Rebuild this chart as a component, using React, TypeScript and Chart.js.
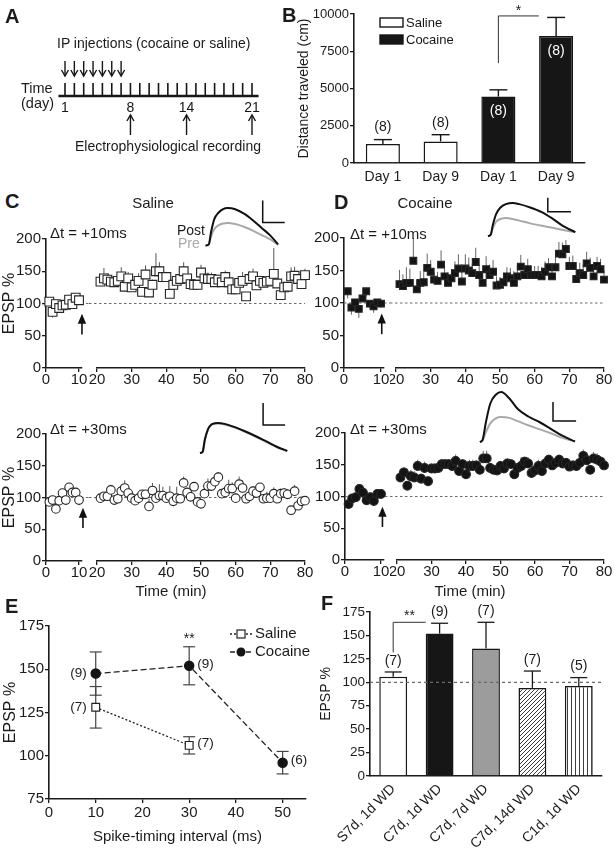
import React, { useEffect, useRef } from "react";
import { Chart, registerables } from "chart.js";

Chart.register(...registerables);

const FONT = "'Liberation Sans', Arial, Helvetica, sans-serif";
Chart.defaults.font.family = FONT;
Chart.defaults.color = "#1b1b1b";

// ---------------- Panel A (protocol timeline) ----------------
const timelineDays = [1, 2, 3, 4, 5, 6, 7, 8, 9, 10, 11, 12, 13, 14, 15, 16, 17, 18, 19, 20, 21];
const injectionDays = [1, 2, 3, 4, 5, 6, 7];
const recordingDays = [8, 14, 21];
const labeledDays = [1, 8, 14, 21];

// ---------------- Panel B (locomotion) ----------------
const bCategories = ["Day 1", "Day 9", "Day 1", "Day 9"];
const bGroups = ["Saline", "Saline", "Cocaine", "Cocaine"];
const bValues = [1270, 1450, 4460, 8520];
const bErrors = [300, 450, 450, 1250];
const bCounts = ["(8)", "(8)", "(8)", "(8)"];
const bTicks = [0, 2500, 5000, 7500, 10000];
const bBracket = [6700, 9870];

// ---------------- Panels C / D (time courses) ----------------
const baselineMinutes = [1, 2, 3, 4, 5, 6, 7, 8, 9, 10];
const postMinutes = [
  21, 22, 23, 24, 25, 26, 27, 28, 29, 30, 31, 32, 33, 34, 35, 36, 37, 38, 39, 40,
  41, 42, 43, 44, 45, 46, 47, 48, 49, 50, 51, 52, 53, 54, 55, 56, 57, 58, 59, 60,
  61, 62, 63, 64, 65, 66, 67, 68, 69, 70, 71, 72, 73, 74, 75, 76, 77, 78, 79, 80,
];
const leftTicks = [0, 10];
const rightTicks = [20, 30, 40, 50, 60, 70, 80];
const epspTicks = [0, 50, 100, 150, 200];

// C top: saline, dt = +10 ms
const cTopBase = [103, 87, 99, 93, 97, 98, 106, 99, 109, 105];
const cTopBaseErr = [4, -9, 4, -6, 5, 4, 4, 3, 4, 3];
const cTopPost = [
  134, 139, 137, 134, 133, 135, 142, 126, 139, 125,
  129, 135, 118, 145, 117, 129, 150, 150, 141, 141,
  115, 129, 135, 138, 150, 139, 130, 129, 129, 148,
  139, 138, 138, 133, 137, 133, 141, 133, 122, 122,
  132, 135, 111, 138, 142, 128, 135, 132, 134, 135,
  146, 131, 113, 125, 126, 142, 143, 138, 130, 144,
];
const cTopPostErr = [
  8, 16, 10, 10, 8, 10, 14, 8, 10, 6,
  8, 12, 4, 14, 4, 8, 28, 14, 12, 8,
  4, 10, 10, 10, 14, 10, 8, 8, 6, 12,
  12, 10, 10, 8, 8, 8, 10, 6, 8, 6,
  10, 14, 4, 12, 12, 10, 8, 8, 8, 10,
  40, 8, 4, 8, 6, 14, 14, 10, 8, 10,
];

// D top: cocaine, dt = +10 ms
const dTopBase = [118, 93, 101, 91, 107, 118, 99, 95, 101, 99];
const dTopBaseErr = [-11, -11, -8, -14, 6, -8, -8, -10, -6, -6];
const dTopPost = [
  129, 126, 131, 131, 165, 121, 131, 132, 154, 148,
  136, 134, 159, 141, 131, 138, 146, 153, 133, 153,
  150, 146, 163, 143, 131, 152, 143, 148, 127, 128,
  132, 141, 138, 131, 141, 156, 143, 152, 143, 143,
  143, 141, 148, 155, 141, 155, 176, 175, 183, 157,
  157, 137, 146, 143, 161, 154, 141, 157, 152, 136,
];
const dTopPostErr = [
  22, 18, 24, 22, 35, 14, 18, 16, 22, 18,
  12, 14, 22, 18, 16, 14, 18, 22, 16, 22,
  20, 14, 22, 16, 12, 20, 16, 18, 14, 12,
  14, 14, 16, 18, 18, 18, 14, 16, 14, 14,
  14, 14, 16, 14, 16, 16, 18, 18, 14, 14,
  16, 14, 16, 16, 18, 16, 14, 14, 16, 14,
];

// C bottom: saline, dt = +30 ms
const cBotBase = [93, 96, 82, 95, 107, 96, 116, 108, 108, 96];
const cBotBaseErr = [5, 5, -6, 5, 6, -6, 5, 5, 5, -8];
const cBotPost = [
  99, 102, 102, 112, 96, 98, 110, 115, 107, 99,
  95, 99, 105, 105, 86, 111, 99, 103, 103, 99,
  102, 94, 99, 98, 123, 108, 101, 117, 93, 90,
  106, 118, 118, 125, 132, 106, 108, 114, 114, 99,
  121, 115, 98, 102, 110, 107, 116, 98, 99, 99,
  106, 98, 106, 107, 105, 80, 110, 87, 94, 95,
];
const cBotPostErr = [
  4, 6, 8, 8, 5, 5, 10, 12, 6, 5,
  6, 8, 6, 6, 12, 12, 14, 18, 14, 10,
  16, 8, 18, 6, 10, 6, 4, 6, 6, 6,
  10, 12, 12, 10, 8, 6, 10, 14, 10, 6,
  12, 12, 6, 6, 8, 12, 6, 6, 10, 10,
  10, 6, 8, 8, 8, 6, 10, 6, 6, 6,
];

// D bottom: cocaine, dt = +30 ms
const dBotBase = [88, 97, 99, 112, 106, 94, 99, 93, 104, 104];
const dBotBaseErr = [4, 4, 4, 4, 4, -6, 4, -8, 4, 4];
const dBotPost = [
  130, 138, 117, 132, 130, 148, 128, 145, 124, 144,
  144, 145, 151, 151, 151, 148, 156, 140, 151, 135,
  148, 148, 149, 142, 160, 160, 145, 142, 141, 148,
  144, 152, 151, 135, 145, 148, 155, 152, 137, 141,
  148, 140, 152, 158, 149, 153, 158, 152, 153, 147,
  149, 148, 153, 164, 157, 142, 160, 158, 155, 149,
];
const dBotPostErr = [
  8, 8, 6, 10, 10, 10, 8, 10, 8, 8,
  8, 8, 8, 8, 8, 8, 10, 10, 8, 8,
  10, 10, 8, 8, 12, 12, 8, 8, 8, 8,
  8, 8, 8, 8, 8, 14, 8, 10, 8, 8,
  10, 8, 8, 8, 10, 8, 8, 8, 8, 8,
  8, 10, 8, 10, 10, 8, 10, 10, 8, 8,
];

// Example EPSP traces (time in ms, amplitude in mV)
const traceC1Time = [5, 8, 10, 13, 17, 21, 25, 32, 40, 48, 56, 64, 71];
const traceC1Post = [0, 0.1, 1.2, 2.4, 3.0, 3.3, 3.4, 3.3, 2.9, 2.3, 1.6, 0.9, 0.1];
const traceC1Pre = [0, 0.1, 0.8, 1.5, 1.85, 2.0, 2.05, 1.95, 1.7, 1.35, 0.95, 0.55, 0.05];
const traceD1Time = [3.6, 6, 8, 11, 15, 20, 26, 32, 42, 52, 62, 72, 83];
const traceD1Post = [0, 0.1, 1.0, 2.0, 2.6, 2.9, 3.0, 2.9, 2.6, 2.2, 1.6, 0.9, 0.35];
const traceD1Pre = [0, 0.1, 0.7, 1.3, 1.55, 1.64, 1.55, 1.4, 1.15, 0.95, 0.75, 0.55, 0.35];
const traceC2Time = [3.6, 6, 8, 11, 14, 17, 20, 26, 34, 44, 54, 64, 74, 83];
const traceC2Post = [0, 0.1, 1.2, 2.2, 2.6, 2.7, 2.73, 2.65, 2.4, 2.0, 1.55, 1.05, 0.55, 0.2];
const traceC2Pre = [0, 0.1, 1.15, 2.15, 2.55, 2.65, 2.68, 2.6, 2.35, 1.95, 1.5, 1.0, 0.5, 0.18];
const traceD2Time = [3.6, 6, 9, 13, 18, 23, 30, 38, 48, 58, 68, 78, 90];
const traceD2Post = [0, 0.2, 1.8, 3.5, 4.3, 4.55, 4.0, 3.0, 2.3, 1.8, 1.2, 0.6, 0.05];
const traceD2Pre = [0, 0.15, 0.9, 1.7, 2.15, 2.27, 2.2, 1.9, 1.5, 1.15, 0.8, 0.4, 0.05];

// ---------------- Panel E ----------------
const eTicksX = [0, 10, 20, 30, 40, 50];
const eTicksY = [75, 100, 125, 150, 175];
const eSalineX = [10, 30];
const eSalineY = [128, 106];
const eSalineErr = [12, 5];
const eSalineN = ["(7)", "(7)"];
const eSalineSide = ["left", "right"];
const eCocaineX = [10, 30, 50];
const eCocaineY = [147.5, 152, 96];
const eCocaineErr = [12.5, 11, 6.5];
const eCocaineN = ["(9)", "(9)", "(6)"];
const eCocaineSide = ["left", "right", "right"];

// ---------------- Panel F ----------------
const fCategories = ["S7d, 1d WD", "C7d, 1d WD", "C7d, 7d WD", "C7d, 14d WD", "C1d, 1d WD"];
const fValues = [106, 152, 136, 94, 96];
const fErrors = [5, 11, 28, 18, 9];
const fCounts = ["(7)", "(9)", "(7)", "(7)", "(5)"];
const fFills = ["white", "black", "grey", "diagonal", "vertical"];
const fTicks = [0, 25, 50, 75, 100, 125, 150, 175];
const fBracket = [132, 164];
const refLine = 100;
const arrowFrom = 52;
const arrowTo = 84;

// ================= helpers =================
type Rect = { x: number; y: number; w: number; h: number };
type Area = { l: number; t: number; r: number; b: number };
const AX = "#1b1b1b";

const padOf = (r: Rect, a: Area, yW: number, xH: number) => ({
  left: a.l - r.x - yW,
  top: a.t - r.y,
  right: r.x + r.w - a.r,
  bottom: r.y + r.h - a.b - xH,
});
const fitW = (w: number) => (s: any) => {
  s.width = w;
  s.paddingTop = 0; s.paddingBottom = 0; s.paddingLeft = 0; s.paddingRight = 0;
};
const fitH = (h: number) => (s: any) => {
  s.height = h;
  s.paddingTop = 0; s.paddingBottom = 0; s.paddingLeft = 0; s.paddingRight = 0;
};
const setTicks = (vals: number[]) => (s: any) => {
  s.ticks = vals.map((v) => ({ value: v }));
};
const plainNum = (v: any) => String(v);
const baseOpts = (padding: any) => ({
  responsive: false,
  maintainAspectRatio: false,
  animation: false,
  devicePixelRatio: 1,
  events: [],
  layout: { padding, autoPadding: false },
  plugins: { legend: { display: false }, tooltip: { enabled: false }, title: { display: false } },
});
const axis = (size: number, tickColor = AX, padding = 1, numeric = true) => ({
  grid: { display: true, drawOnChartArea: false, drawTicks: true, tickLength: 4, color: tickColor, lineWidth: 1.3 },
  border: { display: true, color: AX, width: 1.6 },
  ticks: numeric
    ? { color: AX, font: { size, family: FONT }, padding, autoSkip: false, maxRotation: 0, minRotation: 0, callback: plainNum }
    : { color: AX, font: { size, family: FONT }, padding, autoSkip: false, maxRotation: 0, minRotation: 0 },
});
function seg(ctx: any, x1: number, y1: number, x2: number, y2: number) {
  ctx.beginPath();
  ctx.moveTo(x1, y1);
  ctx.lineTo(x2, y2);
  ctx.stroke();
}

function ChartBox({ rect, build }: { rect: Rect; build: (c: HTMLCanvasElement) => any }) {
  const ref = useRef<HTMLCanvasElement>(null);
  useEffect(() => {
    const cv = ref.current as HTMLCanvasElement;
    const chart = new Chart(cv, build(cv));
    return () => chart.destroy();
  }, []);
  return (
    <canvas
      ref={ref}
      width={rect.w}
      height={rect.h}
      style={{ position: "absolute", left: rect.x, top: rect.y, width: rect.w, height: rect.h }}
    />
  );
}

function Label({ x, y, text, size = 15, bold = false, color = "#1b1b1b", align = "left" }: any) {
  const tx = align === "center" ? "-50%" : align === "right" ? "-100%" : "0";
  return (
    <div
      style={{
        position: "absolute", left: x, top: y, transform: `translate(${tx}, -50%)`,
        fontSize: size, fontWeight: bold ? 700 : 400, color, whiteSpace: "nowrap",
        lineHeight: 1, fontFamily: FONT,
      }}
    >
      {text}
    </div>
  );
}

// ================= Panel A =================
const rectA = { x: 0, y: 0, w: 282, h: 185 };
const areaA = { l: 65, t: 0, r: 252, b: 185 };
function openArrow(ctx: any, x: number, yFrom: number, yTo: number) {
  seg(ctx, x, yFrom, x, yTo);
  const dir = yTo > yFrom ? -1 : 1;
  ctx.beginPath();
  ctx.moveTo(x - 3.5, yTo + dir * 6);
  ctx.lineTo(x, yTo);
  ctx.lineTo(x + 3.5, yTo + dir * 6);
  ctx.stroke();
}
function buildA() {
  return {
    type: "scatter",
    data: { datasets: [{ data: timelineDays.map((d) => ({ x: d, y: 0 })), pointRadius: 0 }] },
    options: {
      ...baseOpts(padOf(rectA, areaA, 0, 0)),
      scales: {
        x: { type: "linear", display: false, min: 1, max: 21 },
        y: { type: "linear", display: false, min: -1, max: 1 },
      },
    },
    plugins: [
      {
        id: "timeline",
        afterDraw(chart: any) {
          const ctx = chart.ctx;
          const xs = chart.scales.x;
          const px = (d: number) => xs.getPixelForValue(d);
          const axisY = 96;
          ctx.save();
          ctx.strokeStyle = "#161616";
          ctx.fillStyle = "#161616";
          ctx.lineWidth = 2.6;
          seg(ctx, px(0.3), axisY, px(21.7), axisY);
          ctx.lineWidth = 1.6;
          timelineDays.forEach((d) => seg(ctx, px(d), axisY - 13, px(d), axisY));
          ctx.font = `14px ${FONT}`;
          ctx.textAlign = "center";
          ctx.textBaseline = "middle";
          labeledDays.forEach((d) => ctx.fillText(String(d), px(d), axisY + 12));
          ctx.lineWidth = 1.4;
          injectionDays.forEach((d) => openArrow(ctx, px(d), 61, 76));
          recordingDays.forEach((d) => openArrow(ctx, px(d), 135, 115));
          ctx.restore();
        },
      },
    ],
  };
}

// ================= Panel B =================
const rectB = { x: 280, y: 0, w: 335, h: 195 };
const areaB = { l: 354, t: 14, r: 585, b: 163 };
function buildB() {
  return {
    type: "bar",
    data: {
      labels: bCategories,
      datasets: [
        {
          data: bValues,
          backgroundColor: bGroups.map((g) => (g === "Saline" ? "#ffffff" : "#161616")),
          borderColor: "#161616",
          borderWidth: 1.5,
          barPercentage: 0.59,
          categoryPercentage: 1,
        },
      ],
    },
    options: {
      ...baseOpts(padOf(rectB, areaB, 74, 28)),
      scales: {
        x: { type: "category", offset: true, ...axis(14, "rgba(0,0,0,0)", 2, false), afterFit: fitH(28) },
        y: {
          type: "linear", min: 0, max: 10000, ...axis(13),
          afterBuildTicks: setTicks(bTicks), afterFit: fitW(74),
          title: { display: true, text: "Distance traveled (cm)", color: AX, font: { size: 14, family: FONT }, padding: { top: 16, bottom: 0 } },
        },
      },
    },
    plugins: [
      {
        id: "bAnn",
        afterDatasetsDraw(chart: any) {
          const ctx = chart.ctx;
          const ys = chart.scales.y;
          const ca = chart.chartArea;
          const meta = chart.getDatasetMeta(0);
          ctx.save();
          ctx.strokeStyle = "#161616";
          ctx.lineWidth = 1.4;
          meta.data.forEach((el: any, i: number) => {
            const yt = ys.getPixelForValue(bValues[i] + bErrors[i]);
            seg(ctx, el.x, el.y, el.x, yt);
            seg(ctx, el.x - 9, yt, el.x + 9, yt);
          });
          ctx.font = `14px ${FONT}`;
          ctx.textAlign = "center";
          ctx.textBaseline = "middle";
          meta.data.forEach((el: any, i: number) => {
            if (bGroups[i] === "Saline") {
              ctx.fillStyle = "#1b1b1b";
              ctx.fillText(bCounts[i], el.x, ys.getPixelForValue(bValues[i] + bErrors[i]) - 12);
            } else {
              ctx.fillStyle = "#ffffff";
              ctx.fillText(bCounts[i], el.x, el.y + 15);
            }
          });
          // significance bracket
          const x1 = meta.data[2].x;
          const x2 = x1 + 0.7 * (meta.data[3].x - x1);
          const yb = ys.getPixelForValue(bBracket[0]);
          const yt = ys.getPixelForValue(bBracket[1]);
          ctx.lineWidth = 1;
          ctx.strokeStyle = "#333";
          ctx.beginPath();
          ctx.moveTo(x1, yb);
          ctx.lineTo(x1, yt);
          ctx.lineTo(x2, yt);
          ctx.stroke();
          ctx.fillStyle = "#1b1b1b";
          ctx.fillText("*", (x1 + x2) / 2, yt - 5);
          // legend
          const lx = ca.left + 26;
          const ly = ca.top + 4;
          ctx.lineWidth = 1.4;
          ctx.strokeStyle = "#161616";
          ctx.fillStyle = "#fff";
          ctx.fillRect(lx, ly, 23, 9);
          ctx.strokeRect(lx, ly, 23, 9);
          ctx.fillStyle = "#161616";
          ctx.fillRect(lx, ly + 17, 23, 9);
          ctx.strokeRect(lx, ly + 17, 23, 9);
          ctx.font = `13px ${FONT}`;
          ctx.textAlign = "left";
          ctx.fillText("Saline", lx + 26, ly + 5);
          ctx.fillText("Cocaine", lx + 26, ly + 22);
          ctx.restore();
        },
      },
    ],
  };
}

// ================= Panels C / D =================
type TCP = {
  x0: number; x10: number; x20: number; x80: number; y200: number; y0: number;
  base: number[]; baseErr: number[]; post: number[]; postErr: number[];
  style: string; radius: number; filled: boolean; arrowX: number; yTitle: boolean; errColor: string;
};

const errorPlugin = {
  id: "errs",
  beforeDatasetsDraw(chart: any) {
    const ctx = chart.ctx;
    const ys = chart.scales.y;
    chart.data.datasets.forEach((ds: any, i: number) => {
      if (!ds.errors) return;
      const meta = chart.getDatasetMeta(i);
      ctx.save();
      ctx.strokeStyle = ds.errColor || "#444";
      ctx.lineWidth = 1;
      meta.data.forEach((el: any, j: number) => {
        const e = ds.errors[j];
        if (!e) return;
        const y2 = ys.getPixelForValue(ds.data[j].y + e);
        seg(ctx, el.x, el.y, el.x, y2);
      });
      ctx.restore();
    });
  },
};
const refLinePlugin = (side: string) => ({
  id: "ref",
  beforeDatasetsDraw(chart: any) {
    const ctx = chart.ctx;
    const y = chart.scales.y.getPixelForValue(refLine);
    const ca = chart.chartArea;
    ctx.save();
    ctx.strokeStyle = "#6a6a6a";
    ctx.lineWidth = 1.1;
    ctx.setLineDash([2.5, 2.5]);
    if (side === "left") seg(ctx, ca.left, y, chart.width, y);
    else seg(ctx, 0, y, ca.right, y);
    ctx.restore();
  },
});
const arrowPlugin = (ax: number) => ({
  id: "arrow",
  afterDraw(chart: any) {
    const ctx = chart.ctx;
    const x = chart.scales.x.getPixelForValue(ax);
    const yb = chart.scales.y.getPixelForValue(arrowFrom);
    const yt = chart.scales.y.getPixelForValue(arrowTo);
    ctx.save();
    ctx.strokeStyle = "#111";
    ctx.fillStyle = "#111";
    ctx.lineWidth = 1.6;
    seg(ctx, x, yb, x, yt + 8);
    ctx.beginPath();
    ctx.moveTo(x, yt);
    ctx.lineTo(x - 4.2, yt + 10);
    ctx.lineTo(x + 4.2, yt + 10);
    ctx.closePath();
    ctx.fill();
    ctx.restore();
  },
});

function pointDataset(xs: number[], ys: number[], errs: number[], p: TCP) {
  return {
    data: xs.map((x, i) => ({ x, y: ys[i] })),
    errors: errs,
    errColor: p.errColor,
    pointStyle: p.style,
    pointRadius: p.radius,
    pointBackgroundColor: p.filled ? "#141414" : "#ffffff",
    pointBorderColor: "#262626",
    pointBorderWidth: 1.1,
    showLine: false,
    clip: false,
  };
}

function tcGeom(p: TCP) {
  const breakX = Math.round((p.x10 + p.x20) / 2) + 1;
  const top = p.y200 - 12;
  const bottom = p.y0 + 26;
  const lx = p.x0 - 46;
  return {
    leftRect: { x: lx, y: top, w: breakX - lx, h: bottom - top },
    rightRect: { x: breakX, y: top, w: Math.min(615, p.x80 + 12) - breakX, h: bottom - top },
    leftArea: { l: p.x0, t: p.y200, r: p.x0 + 1.08 * (p.x10 - p.x0), b: p.y0 },
    rightArea: { l: p.x20, t: p.y200, r: p.x80, b: p.y0 },
  };
}

function buildTCLeft(p: TCP) {
  const g = tcGeom(p);
  return {
    type: "scatter",
    data: { datasets: [pointDataset(baselineMinutes, p.base, p.baseErr, p)] },
    options: {
      ...baseOpts(padOf(g.leftRect, g.leftArea, 46, 22)),
      scales: {
        x: { type: "linear", min: 0, max: 10.8, ...axis(15, AX, -1), afterBuildTicks: setTicks(leftTicks), afterFit: fitH(22) },
        y: {
          type: "linear", min: 0, max: 200, ...axis(15),
          afterBuildTicks: setTicks(epspTicks), afterFit: fitW(46),
          title: { display: p.yTitle, text: "EPSP %", color: AX, font: { size: 16, family: FONT }, padding: { top: 0, bottom: 0 } },
        },
      },
    },
    plugins: [errorPlugin, refLinePlugin("left"), arrowPlugin(p.arrowX)],
  };
}
function buildTCRight(p: TCP) {
  const g = tcGeom(p);
  return {
    type: "scatter",
    data: { datasets: [pointDataset(postMinutes, p.post, p.postErr, p)] },
    options: {
      ...baseOpts(padOf(g.rightRect, g.rightArea, 0, 22)),
      scales: {
        x: { type: "linear", min: 20, max: 80, ...axis(15, AX, -1), afterBuildTicks: setTicks(rightTicks), afterFit: fitH(22) },
        y: { type: "linear", display: false, min: 0, max: 200 },
      },
    },
    plugins: [errorPlugin, refLinePlugin("right")],
  };
}

type InsetP = {
  rect: Rect; ymin: number; t: number[]; post: number[]; pre: number[];
  bar: { x: number; y: number; ms: number; mV: number };
};
const PX_MS = 1.1;
const PX_MV = 11;
function buildInset(p: InsetP) {
  const line = (ys: number[], color: string) => ({
    data: p.t.map((t, i) => ({ x: t, y: ys[i] })),
    borderColor: color,
    borderWidth: 2,
    pointRadius: 0,
    cubicInterpolationMode: "monotone",
    clip: false,
  });
  return {
    type: "line",
    data: {
      datasets: [
        line(p.post, "#111111"),
        line(p.pre, "#a9a9a9"),
        {
          data: [
            { x: p.bar.x, y: p.bar.y + p.bar.mV },
            { x: p.bar.x, y: p.bar.y },
            { x: p.bar.x + p.bar.ms, y: p.bar.y },
          ],
          borderColor: "#111",
          borderWidth: 1.5,
          pointRadius: 0,
          tension: 0,
          clip: false,
        },
      ],
    },
    options: {
      ...baseOpts(0),
      scales: {
        x: { type: "linear", display: false, min: 0, max: p.rect.w / PX_MS },
        y: { type: "linear", display: false, min: p.ymin, max: p.ymin + p.rect.h / PX_MV },
      },
    },
  };
}

const cTopP: TCP = {
  x0: 46, x10: 79, x20: 97, x80: 305, y200: 239, y0: 368,
  base: cTopBase, baseErr: cTopBaseErr, post: cTopPost, postErr: cTopPostErr,
  style: "rect", radius: 6.2, filled: false, arrowX: 10.9, yTitle: true, errColor: "#555",
};
const dTopP: TCP = {
  x0: 344, x10: 381, x20: 396, x80: 604, y200: 238, y0: 368,
  base: dTopBase, baseErr: dTopBaseErr, post: dTopPost, postErr: dTopPostErr,
  style: "rect", radius: 4.8, filled: true, arrowX: 10.2, yTitle: false, errColor: "#666",
};
const cBotP: TCP = {
  x0: 46, x10: 79, x20: 97, x80: 305, y200: 434, y0: 561,
  base: cBotBase, baseErr: cBotBaseErr, post: cBotPost, postErr: cBotPostErr,
  style: "circle", radius: 4.3, filled: false, arrowX: 11.2, yTitle: true, errColor: "#555",
};
const dBotP: TCP = {
  x0: 345, x10: 381, x20: 397, x80: 604, y200: 433, y0: 560,
  base: dBotBase, baseErr: dBotBaseErr, post: dBotPost, postErr: dBotPostErr,
  style: "circle", radius: 4.4, filled: true, arrowX: 10.4, yTitle: false, errColor: "#666",
};

const insetC1: InsetP = { rect: { x: 200, y: 195, w: 92, h: 55 }, ymin: -0.41, t: traceC1Time, post: traceC1Post, pre: traceC1Pre, bar: { x: 57, y: 2.1, ms: 20, mV: 2 } };
const insetD1: InsetP = { rect: { x: 484, y: 190, w: 96, h: 50 }, ymin: -0.36, t: traceD1Time, post: traceD1Post, pre: traceD1Pre, bar: { x: 58, y: 2.2, ms: 21, mV: 1.27 } };
const insetC2: InsetP = { rect: { x: 196, y: 398, w: 95, h: 58 }, ymin: -0.27, t: traceC2Time, post: traceC2Post, pre: traceC2Pre, bar: { x: 61, y: 2.55, ms: 20, mV: 2 } };
const insetD2: InsetP = { rect: { x: 476, y: 385, w: 108, h: 62 }, ymin: -0.45, t: traceD2Time, post: traceD2Post, pre: traceD2Pre, bar: { x: 70, y: 1.91, ms: 21, mV: 1.73 } };

function TimeCourse({ p, inset }: { p: TCP; inset: InsetP }) {
  const g = tcGeom(p);
  return (
    <>
      <ChartBox rect={g.leftRect} build={() => buildTCLeft(p)} />
      <ChartBox rect={g.rightRect} build={() => buildTCRight(p)} />
      <ChartBox rect={inset.rect} build={() => buildInset(inset)} />
    </>
  );
}

// ================= Panel E =================
const rectE = { x: 0, y: 612, w: 312, h: 241 };
const areaE = { l: 49, t: 626, r: 306, b: 799 };
function buildE() {
  return {
    type: "line",
    data: {
      datasets: [
        {
          label: "Cocaine",
          data: eCocaineX.map((x, i) => ({ x, y: eCocaineY[i] })),
          errors: eCocaineErr,
          borderColor: "#222",
          borderWidth: 1.3,
          borderDash: [6, 3],
          pointStyle: "circle",
          pointRadius: 4.6,
          pointBackgroundColor: "#141414",
          pointBorderColor: "#141414",
          clip: false,
        },
        {
          label: "Saline",
          data: eSalineX.map((x, i) => ({ x, y: eSalineY[i] })),
          errors: eSalineErr,
          borderColor: "#222",
          borderWidth: 1.3,
          borderDash: [2, 2],
          pointStyle: "rect",
          pointRadius: 5.5,
          pointBackgroundColor: "#ffffff",
          pointBorderColor: "#222",
          pointBorderWidth: 1.2,
          clip: false,
        },
      ],
    },
    options: {
      ...baseOpts(padOf(rectE, areaE, 49, 54)),
      scales: {
        x: {
          type: "linear", min: 0, max: 55, ...axis(15),
          afterBuildTicks: setTicks(eTicksX), afterFit: fitH(54),
          title: { display: true, text: "Spike-timing interval (ms)", color: AX, font: { size: 15, family: FONT }, padding: { top: 0, bottom: 7 } },
        },
        y: {
          type: "linear", min: 75, max: 175, ...axis(15),
          afterBuildTicks: setTicks(eTicksY), afterFit: fitW(49),
          title: { display: true, text: "EPSP %", color: AX, font: { size: 16, family: FONT }, padding: { top: 1, bottom: 0 } },
        },
      },
    },
    plugins: [
      {
        id: "eErr",
        beforeDatasetsDraw(chart: any) {
          const ctx = chart.ctx;
          const ys = chart.scales.y;
          ctx.save();
          ctx.strokeStyle = "#444";
          ctx.lineWidth = 1.2;
          chart.data.datasets.forEach((ds: any, i: number) => {
            const meta = chart.getDatasetMeta(i);
            meta.data.forEach((el: any, j: number) => {
              const v = ds.data[j].y;
              const e = ds.errors[j];
              const yt = ys.getPixelForValue(v + e);
              const yb = ys.getPixelForValue(v - e);
              seg(ctx, el.x, yb, el.x, yt);
              seg(ctx, el.x - 6, yt, el.x + 6, yt);
              seg(ctx, el.x - 6, yb, el.x + 6, yb);
            });
          });
          ctx.restore();
        },
        afterDatasetsDraw(chart: any) {
          const ctx = chart.ctx;
          const xs = chart.scales.x;
          const ys = chart.scales.y;
          const ca = chart.chartArea;
          ctx.save();
          ctx.fillStyle = "#1b1b1b";
          ctx.font = `13.5px ${FONT}`;
          ctx.textBaseline = "middle";
          const put = (labels: string[], sides: string[], xv: number[], yv: number[]) =>
            labels.forEach((t, i) => {
              const x = xs.getPixelForValue(xv[i]);
              const y = ys.getPixelForValue(yv[i]);
              if (sides[i] === "left") {
                ctx.textAlign = "right";
                ctx.fillText(t, x - 9, y);
              } else {
                ctx.textAlign = "left";
                ctx.fillText(t, x + 8, y - 2);
              }
            });
          put(eCocaineN, eCocaineSide, eCocaineX, eCocaineY);
          put(eSalineN, eSalineSide, eSalineX, eSalineY);
          // significance
          ctx.textAlign = "center";
          ctx.font = `14px ${FONT}`;
          ctx.fillText("**", xs.getPixelForValue(eCocaineX[1]), ys.getPixelForValue(eCocaineY[1] + eCocaineErr[1]) - 8);
          // legend
          const lx = ca.right - 76;
          const entries = [
            { t: "Saline", dash: [2, 2], style: "rect" },
            { t: "Cocaine", dash: [5, 3], style: "circle" },
          ];
          entries.forEach((en, i) => {
            const y = ca.top + 8 + i * 18;
            ctx.strokeStyle = "#222";
            ctx.lineWidth = 1.3;
            ctx.setLineDash(en.dash);
            seg(ctx, lx, y, lx + 22, y);
            ctx.setLineDash([]);
            if (en.style === "rect") {
              ctx.fillStyle = "#fff";
              ctx.fillRect(lx + 7, y - 4, 8, 8);
              ctx.lineWidth = 1.2;
              ctx.strokeRect(lx + 7, y - 4, 8, 8);
            } else {
              ctx.fillStyle = "#141414";
              ctx.beginPath();
              ctx.arc(lx + 11, y, 4.5, 0, Math.PI * 2);
              ctx.fill();
            }
            ctx.fillStyle = "#1b1b1b";
            ctx.font = `15px ${FONT}`;
            ctx.textAlign = "left";
            ctx.fillText(en.t, lx + 25, y);
          });
          ctx.restore();
        },
      },
    ],
  };
}

// ================= Panel F =================
const rectF = { x: 310, y: 598, w: 305, h: 255 };
const areaF = { l: 370, t: 612, r: 602, b: 776 };
function makePattern(cv: HTMLCanvasElement, kind: string) {
  const tile = document.createElement("canvas");
  const s = 4;
  tile.width = s;
  tile.height = s;
  const g = tile.getContext("2d") as CanvasRenderingContext2D;
  g.fillStyle = "#fff";
  g.fillRect(0, 0, s, s);
  g.strokeStyle = "#2a2a2a";
  g.lineWidth = 0.9;
  g.beginPath();
  if (kind === "diagonal") {
    g.moveTo(0, s);
    g.lineTo(s, 0);
    g.moveTo(-1, 1);
    g.lineTo(1, -1);
    g.moveTo(s - 1, s + 1);
    g.lineTo(s + 1, s - 1);
  } else {
    g.moveTo(1.5, 0);
    g.lineTo(1.5, s);
  }
  g.stroke();
  const ctx = cv.getContext("2d") as CanvasRenderingContext2D;
  return ctx.createPattern(tile, "repeat");
}
function buildF(cv: HTMLCanvasElement) {
  const fills = fFills.map((f) =>
    f === "white" ? "#ffffff" : f === "black" ? "#161616" : f === "grey" ? "#9c9c9c" : makePattern(cv, f)
  );
  return {
    type: "bar",
    data: {
      labels: fCategories,
      datasets: [
        {
          data: fValues,
          backgroundColor: fills,
          borderColor: "#161616",
          borderWidth: 1.5,
          barPercentage: 0.6,
          categoryPercentage: 1,
        },
      ],
    },
    options: {
      ...baseOpts(padOf(rectF, areaF, 60, 77)),
      scales: {
        x: {
          type: "category", offset: true, ...axis(14, "rgba(0,0,0,0)", 1, false),
          ticks: { color: AX, font: { size: 14, family: FONT }, padding: 1, autoSkip: false, maxRotation: 45, minRotation: 45 },
          afterFit: fitH(77),
        },
        y: {
          type: "linear", min: 0, max: 175, ...axis(13.5),
          afterBuildTicks: setTicks(fTicks), afterFit: fitW(60),
          title: { display: true, text: "EPSP %", color: AX, font: { size: 14, family: FONT }, padding: { top: 8, bottom: 0 } },
        },
      },
    },
    plugins: [
      {
        id: "fAnn",
        afterDatasetsDraw(chart: any) {
          const ctx = chart.ctx;
          const ys = chart.scales.y;
          const ca = chart.chartArea;
          const meta = chart.getDatasetMeta(0);
          ctx.save();
          ctx.strokeStyle = "#6a6a6a";
          ctx.lineWidth = 1.2;
          ctx.setLineDash([3, 3]);
          const y100 = ys.getPixelForValue(refLine);
          seg(ctx, ca.left, y100, ca.right, y100);
          ctx.setLineDash([]);
          ctx.strokeStyle = "#1b1b1b";
          ctx.lineWidth = 1.3;
          meta.data.forEach((el: any, i: number) => {
            const yt = ys.getPixelForValue(fValues[i] + fErrors[i]);
            seg(ctx, el.x, el.y, el.x, yt);
            seg(ctx, el.x - 8.5, yt, el.x + 8.5, yt);
          });
          ctx.fillStyle = "#1b1b1b";
          ctx.font = `14px ${FONT}`;
          ctx.textAlign = "center";
          ctx.textBaseline = "middle";
          meta.data.forEach((el: any, i: number) =>
            ctx.fillText(fCounts[i], el.x, ys.getPixelForValue(fValues[i] + fErrors[i]) - 11)
          );
          const b0 = meta.data[0];
          const b1 = meta.data[1];
          const yb = ys.getPixelForValue(fBracket[0]);
          const yt = ys.getPixelForValue(fBracket[1]);
          const x2 = b1.x - b1.width / 2;
          ctx.lineWidth = 1;
          ctx.strokeStyle = "#333";
          ctx.beginPath();
          ctx.moveTo(b0.x, yb);
          ctx.lineTo(b0.x, yt);
          ctx.lineTo(x2, yt);
          ctx.stroke();
          ctx.fillText("**", (b0.x + x2) / 2, yt - 6);
          ctx.restore();
        },
      },
    ],
  };
}

// ================= App =================
export default function App() {
  return (
    <div
      style={{
        position: "absolute", left: 0, top: 0, width: 615, height: 853,
        background: "#fff", overflow: "hidden", fontFamily: FONT, color: "#1b1b1b",
      }}
    >
      <ChartBox rect={rectA} build={buildA} />
      <ChartBox rect={rectB} build={buildB} />
      <TimeCourse p={cTopP} inset={insetC1} />
      <TimeCourse p={dTopP} inset={insetD1} />
      <TimeCourse p={cBotP} inset={insetC2} />
      <TimeCourse p={dBotP} inset={insetD2} />
      <ChartBox rect={rectE} build={buildE} />
      <ChartBox rect={rectF} build={buildF} />

      <Label x={5} y={16} text="A" size={20} bold />
      <Label x={282} y={15} text="B" size={20} bold />
      <Label x={5} y={201} text="C" size={20} bold />
      <Label x={334} y={202} text="D" size={20} bold />
      <Label x={5} y={606} text="E" size={20} bold />
      <Label x={321} y={603} text="F" size={20} bold />

      <Label x={57} y={43} text="IP injections (cocaine or saline)" size={14} />
      <Label x={21} y={88} text="Time" size={14.5} />
      <Label x={21} y={103} text="(day)" size={14.5} />
      <Label x={75} y={146} text="Electrophysiological recording" size={14} />

      <Label x={153} y={202} text="Saline" size={15} align="center" />
      <Label x={425} y={202} text="Cocaine" size={15} align="center" />
      <Label x={50} y={232} text="Δt = +10ms" size={15} />
      <Label x={350} y={233} text="Δt = +10ms" size={15} />
      <Label x={50} y={428} text="Δt = +30ms" size={15} />
      <Label x={350} y={428} text="Δt = +30ms" size={15} />
      <Label x={177} y={230} text="Post" size={14} />
      <Label x={178} y={243} text="Pre" size={14} color="#a9a9a9" />
      <Label x={171} y={590} text="Time (min)" size={15} align="center" />
      <Label x={470} y={590} text="Time (min)" size={15} align="center" />
    </div>
  );
}
